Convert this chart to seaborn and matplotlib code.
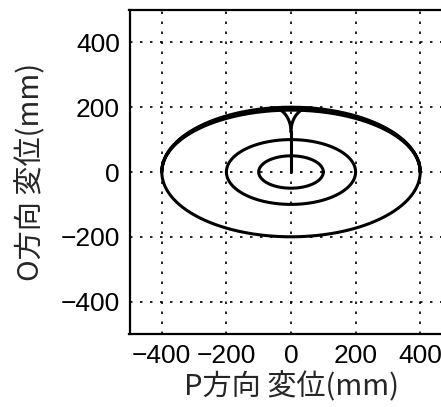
import numpy as np
import pandas as pd
import matplotlib
matplotlib.use("Agg")
import matplotlib.pyplot as plt
import seaborn as sns

# ---- data ----
loop_rx = [100, 200, 400]                # horizontal semi-axes of the full orbit loops (mm)
loop_ry = [50, 100, 200]                 # vertical semi-axes of the full orbit loops (mm)
upper_rx = [400, 400, 400]               # extra upper passes of the outer loop (mm)
upper_ry = [197, 194, 191]
stem_y = [0, 124]                        # vertical run along P = 0 (mm)
cusp_base = 124                          # where the flaring arms start (mm)
cusp_top = 198                           # where the arms meet the outer loop (mm)
cusp_halfwidth = 56                      # half width of the arms at the top (mm)
ticks = [-400, -200, 0, 200, 400]
xlabel = "P方向 変位(mm)"
ylabel = "O方向 変位(mm)"

# ---- build the trajectory pieces ----
frames = []
theta = np.linspace(0, 2 * np.pi, 721)
for i, (rx, ry) in enumerate(zip(loop_rx, loop_ry)):
    frames.append(pd.DataFrame({"P": rx * np.cos(theta), "O": ry * np.sin(theta),
                                "seg": f"loop{i}"}))
half = np.linspace(0, np.pi, 361)
for i, (rx, ry) in enumerate(zip(upper_rx, upper_ry)):
    frames.append(pd.DataFrame({"P": rx * np.cos(half), "O": ry * np.sin(half),
                                "seg": f"upper{i}"}))
frames.append(pd.DataFrame({"P": [0.0, 0.0], "O": stem_y, "seg": "stem"}))
t = np.linspace(0, 1, 100)
arm_x = cusp_halfwidth * (1 - np.sqrt(1 - t ** 2))
arm_y = cusp_base + (cusp_top - cusp_base) * t
frames.append(pd.DataFrame({"P": arm_x, "O": arm_y, "seg": "armR"}))
frames.append(pd.DataFrame({"P": -arm_x, "O": arm_y, "seg": "armL"}))
df = pd.concat(frames, ignore_index=True)

sns.set_style("white")
fig = plt.figure(figsize=(4.41, 4.07), dpi=100)
ax = fig.add_axes([129.5 / 441, 73 / 407, 323 / 441, 324 / 407])

sns.lineplot(data=df, x="P", y="O", units="seg", estimator=None, sort=False,
             color="black", linewidth=2.2, ax=ax, legend=False)

ax.set_xlim(-500, 500)
ax.set_ylim(-500, 500)
ax.set_xticks(ticks)
ax.set_yticks(ticks)
ax.set_xticklabels([("\u2212" + str(abs(v))) if v < 0 else str(v) for v in ticks])
ax.set_yticklabels([("\u2212" + str(abs(v))) if v < 0 else str(v) for v in ticks])
ax.grid(True, color="black", linestyle=(0, (1.5, 4.5)), linewidth=1.2)
for s in ax.spines.values():
    s.set_color("black")
    s.set_linewidth(1.6)
ax.tick_params(axis="both", length=0, pad=7, labelsize=19, colors="black")
for lbl in ax.get_xticklabels() + ax.get_yticklabels():
    lbl.set_fontfamily(["Liberation Sans", "DejaVu Sans"])
ax.set_xlabel(xlabel, fontsize=21, family=["Noto Sans CJK JP", "DejaVu Sans"], labelpad=3)
ax.set_ylabel(ylabel, fontsize=21, family=["Noto Sans CJK JP", "DejaVu Sans"], labelpad=10)

fig.savefig("out.png", dpi=100)
